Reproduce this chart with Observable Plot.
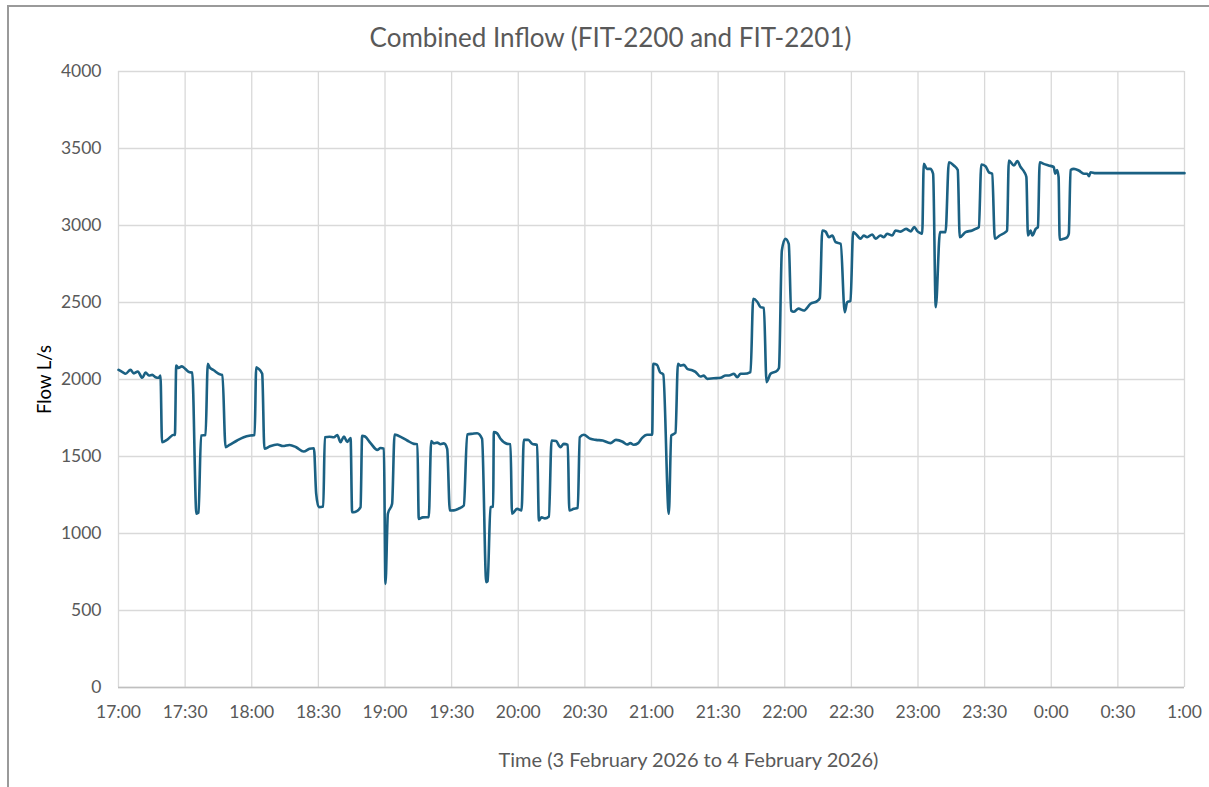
<!DOCTYPE html>
<html>
<head>
<meta charset="utf-8">
<script src="https://cdn.jsdelivr.net/npm/d3@7"></script>
<script src="https://cdn.jsdelivr.net/npm/@observablehq/plot@0.6"></script>
<style>
  html, body { margin: 0; padding: 0; background: #fff; }
  #wrap { position: relative; width: 1209px; height: 787px; overflow: hidden; }
  #frame { position: absolute; left: 7px; top: 5px; width: 1220px; height: 800px; border: 2px solid #9a9a9a; box-sizing: border-box; }
  #chart { position: absolute; left: 0; top: 0; }
</style>
</head>
<body>
<div id="wrap"><div id="frame"></div><div id="chart"></div></div>
<script>
// minutes after 17:00 on 3 February 2026
const minutes = [
  0, 1.8, 3.2, 5.4, 6.9, 8.7, 10.7, 12.2, 13.7, 15.2, 16.7, 18.1, 18.9, 19.6, 22, 24.9, 25.4,
  26.0, 27, 28.5, 30, 31.7, 33.2, 35.1, 36.0, 37.2, 39.2, 40.2, 41, 42.9, 45.9, 46.8,
  48.2, 50, 53.4, 56.4, 59.4, 61.3, 62, 63, 64.7, 65.7, 68, 71.5, 74, 77, 80, 83.4, 86, 88.0,
  89, 90.2, 92.2, 92.9, 95, 97, 98.5, 100, 101.5, 103, 104.5, 105.2, 106.5, 109, 109.7, 111,
  113.5, 116.5, 118, 119.5, 120.2, 121.3, 123.2, 124.3, 126, 130, 133, 134.6, 135.2, 137, 139.7,
  140.8, 142, 143.5, 145, 146.5, 148, 149.2, 151, 153, 155.5, 157, 159.5, 161.5, 163.7, 165.6,
  166.2, 167.5, 168.7, 169, 170.5, 172, 175, 176.5, 177.2, 179.5, 181.5, 182.5, 184.5, 186.3,
  188.5, 189.3, 190.5, 192, 193.8, 195, 197, 199, 200.5, 202.3, 203, 205, 206.8, 207.7, 209.5,
  212.5, 215, 218, 221.5, 224, 227, 229, 230.5, 232, 234, 235.8, 238, 240.3, 240.8, 242.5,
  243.8, 245.3, 247.8, 248.9, 250.8, 251.9, 253, 254.6, 256.1, 258.3, 259.8, 262, 263.5, 265.1,
  268, 271.1, 273.4, 274.9, 277.1, 278.6, 280.1, 281.6, 284.6, 285.8, 287.6, 289.1, 290.6,
  291.8, 293.6, 296.6, 297.4, 298.7, 300.3, 301.8, 302.9, 304, 306.2, 308.6, 311.6, 314.6,
  315.8, 316.9, 318.4, 319.9, 321.4, 322.9, 325.2, 327, 328.1, 329.6, 330.8, 332.6, 334.1,
  335.6, 337.1, 339.4, 340.9, 343.1, 344.6, 346.1, 348.4, 349.9, 352.1, 354.6, 356.8, 358.3,
  359.8, 361.2, 361.9, 362.6, 364, 365.5, 366.8, 368, 369.9, 372.4, 373.9, 376.1, 377.9, 378.8,
  381.4, 384.4, 385.9, 387.4, 388.5, 390.4, 391.9, 393.4, 394.6, 396.8, 399.4, 400.1, 400.9,
  403.2, 404.7, 406.2, 407.9, 408.8, 409.5, 410.7, 411.5, 413, 414, 414.8, 416.6, 418.8, 421.1,
  421.8, 422.6, 423.3, 423.8, 425.7, 427.2, 427.9, 428.7, 430.2, 432.4, 434.7, 436.2, 437,
  437.7, 440, 480
];
// combined inflow, L/s
const flow = [
  2063, 2048, 2037, 2063, 2040, 2052, 2011, 2045, 2026, 2030, 2015, 2011, 2026, 1593, 1610, 1641, 1640,
  2091, 2075, 2085, 2070, 2048, 2045, 1128, 1135, 1636, 1640, 2102, 2080, 2060, 2032, 2030,
  1561, 1575, 1604, 1625, 1636, 1640, 2080, 2070, 2037, 1550, 1565, 1578, 1568, 1575, 1560, 1532, 1550, 1554,
  1260, 1171, 1175, 1625, 1628, 1625, 1640, 1593, 1630, 1595, 1620, 1138, 1140, 1171, 1635, 1630,
  1587, 1543, 1555, 1550, 673, 1128, 1193, 1643, 1635, 1604, 1582, 1580, 1095, 1105, 1106,
  1600, 1585, 1590, 1580, 1585, 1550, 1149, 1150, 1160, 1182, 1643, 1648, 1651, 1615, 684,
  690, 1171, 1175, 1658, 1650, 1615, 1582, 1580, 1128, 1160, 1150, 1608, 1608, 1582,
  1575, 1084, 1105, 1098, 1110, 1604, 1600, 1561, 1582, 1575, 1149, 1160, 1167, 1625, 1641,
  1615, 1608, 1604, 1587, 1608, 1596, 1578, 1587, 1576, 1587, 1621, 1641, 1641, 2102, 2095,
  2048, 2032, 1128, 1636, 1654, 2102, 2090, 2095, 2069, 2060, 2050, 2019, 2025, 2004,
  2008, 2011, 2026, 2026, 2037, 2015, 2037, 2037, 2048, 2524, 2505, 2470, 2465,
  1983, 2037, 2058, 2075, 2838, 2914, 2880, 2448, 2440, 2460, 2448, 2492, 2509,
  2530, 2968, 2960, 2924, 2935, 2892, 2881, 2437, 2502, 2510, 2957, 2935, 2914,
  2935, 2924, 2942, 2914, 2935, 2924, 2946, 2935, 2968, 2960, 2978, 2962, 2990,
  2962, 2950, 2946, 3400, 3368, 3368, 3336, 2470, 2957, 2957, 3411, 3390, 3360, 2924,
  2957, 2968, 2978, 2990, 3396, 3385, 3346, 3336, 2914, 2935, 2957, 2968, 3422,
  3390, 3418, 3380, 3346, 3315, 2935, 2968, 2935, 2978, 2990, 3411, 3400, 3390, 3380,
  3336, 3360, 3315, 2907, 2914, 2924, 2946, 3360, 3368, 3357, 3336, 3336, 3320,
  3346, 3340, 3340
];
const xTicks = [0, 30, 60, 90, 120, 150, 180, 210, 240, 270, 300, 330, 360, 390, 420, 450, 480];
const xTickLabels = ["17:00", "17:30", "18:00", "18:30", "19:00", "19:30", "20:00", "20:30", "21:00",
  "21:30", "22:00", "22:30", "23:00", "23:30", "0:00", "0:30", "1:00"];
const yTicks = [0, 500, 1000, 1500, 2000, 2500, 3000, 3500, 4000];

const data = minutes.map((m, i) => ({m, v: flow[i]}));
const font = "Lato, 'Open Sans', sans-serif";

const chart = Plot.plot({
  width: 1209,
  height: 787,
  marginLeft: 118,
  marginRight: 25,
  marginTop: 71,
  marginBottom: 100,
  style: {fontFamily: font, background: "transparent"},
  x: {domain: [0, 480]},
  y: {domain: [0, 4000]},
  marks: [
    Plot.gridY(yTicks, {stroke: "#d9d9d9", strokeOpacity: 1, strokeWidth: 1.3}),
    Plot.gridX(xTicks, {stroke: "#d9d9d9", strokeOpacity: 1, strokeWidth: 1.3}),
    Plot.ruleY([0], {stroke: "#bfbfbf", strokeWidth: 1.5}),
    Plot.line(data, {x: "m", y: "v", stroke: "#1b6183", strokeWidth: 2.6, strokeLinejoin: "round", curve: "monotone-x"}),
    Plot.axisX({ticks: xTicks, tickFormat: (d) => xTickLabels[xTicks.indexOf(d)], tickSize: 0,
      tickPadding: 18, fontSize: 17.5, color: "#595959", label: null}),
    Plot.axisY({ticks: yTicks, tickFormat: (d) => String(d), tickSize: 0, tickPadding: 17,
      fontSize: 17.5, color: "#595959", label: null}),
    Plot.text(["Combined Inflow (FIT-2200 and FIT-2201)"], {frameAnchor: "top", lineAnchor: "middle",
      dy: -33, dx: -41, fontSize: 26, fill: "#595959"}),
    Plot.text(["Time (3 February 2026 to 4 February 2026)"], {frameAnchor: "bottom", lineAnchor: "middle",
      dy: 73, dx: 37, fontSize: 20, fill: "#595959"}),
    Plot.text(["Flow L/s"], {frameAnchor: "left", textAnchor: "middle", lineAnchor: "middle",
      dx: -73, rotate: -90, fontSize: 18.5, fill: "#000"})
  ]
});
document.getElementById("chart").appendChild(chart);
</script>
</body>
</html>
